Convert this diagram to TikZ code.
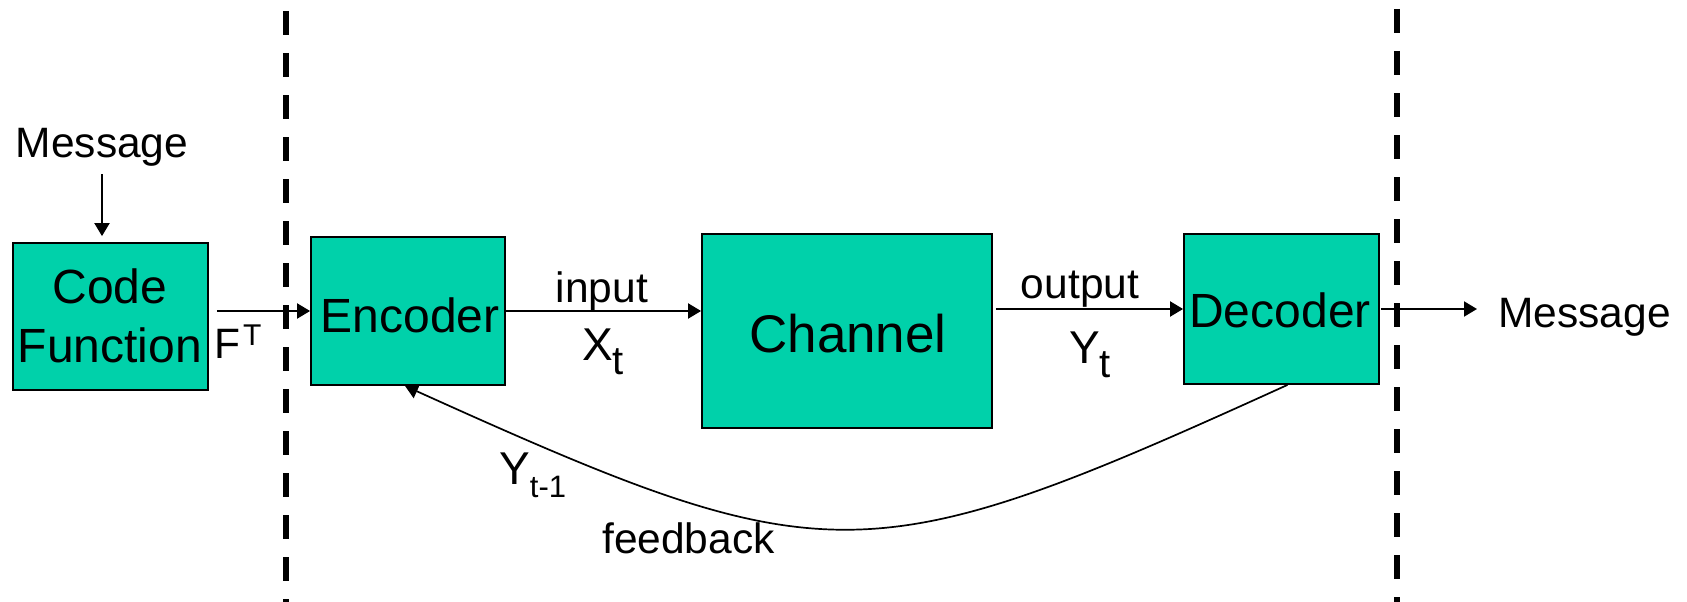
\documentclass[tikz,border=0pt]{standalone}
\usepackage{fontspec}
\setmainfont{Liberation Sans}
\usetikzlibrary{arrows.meta}
\definecolor{boxfill}{RGB}{0,209,170}
\begin{document}
\begin{tikzpicture}[x=1pt,y=-1pt,
  blk/.style={draw=black, line width=1.8pt, fill=boxfill, inner sep=0pt},
  boxtxt/.style={inner sep=0pt, font=\fontsize{48}{56}\selectfont},
  chtxt/.style={inner sep=0pt, font=\fontsize{53}{60}\selectfont},
  lbl/.style={inner sep=0pt, font=\fontsize{42.5}{50}\selectfont},
  lblbig/.style={inner sep=0pt, font=\fontsize{46}{52}\selectfont},
  arr/.style={line width=2pt, -{Triangle[length=13pt,width=15pt]}},
  divider/.style={line width=6pt, dash pattern=on 24pt off 18pt},
]
\useasboundingbox (0,0) rectangle (1687,602);

% dividers
\coordinate (d1t) at (286,11);
\coordinate (d1b) at (286,602);
\coordinate (d2t) at (1397,9);
\coordinate (d2b) at (1397,602);
\draw[divider] (d1t) -- (d1b);
\draw[divider] (d2t) -- (d2b);

% blocks
\node[blk, minimum width=195pt, minimum height=147pt] (cf) at (110.5,316.5) {};
\node[blk, minimum width=194pt, minimum height=148pt] (enc) at (408,311) {};
\node[blk, minimum width=290pt, minimum height=194pt] (ch) at (847,331) {};
\node[blk, minimum width=195pt, minimum height=150pt] (dec) at (1281.5,309) {};

% block texts
\node[boxtxt, anchor=base] (cft1) at (110,303) {Code};
\node[boxtxt, anchor=base] (cft2) at (110,362) {Function};
\node[boxtxt, anchor=base] (enct) at (410,332) {Encoder};
\node[chtxt, anchor=base] (cht) at (848,352) {Channel};
\node[boxtxt, anchor=base] (dect) at (1280,327) {Decoder};

% labels
\node[lbl, anchor=base] (msg1) at (102,157) {Message};
\node[lbl, anchor=base west] (ft) at (214,358) {F\hspace{3pt}\raisebox{13pt}{\fontsize{30}{30}\selectfont T}};
\node[lbl, anchor=base] (inp) at (602,302) {input};
\node[lblbig, anchor=base west] (xt) at (582,360) {X\raisebox{-14pt}{\fontsize{40}{40}\selectfont t}};
\node[lbl, anchor=base] (outp) at (1080,298) {output};
\node[lblbig, anchor=base west] (yt) at (1069,363) {Y\raisebox{-14pt}{\fontsize{40}{40}\selectfont t}};
\node[lbl, anchor=base west] (msg2) at (1498,327) {Message};
\node[lblbig, anchor=base west] (ytm) at (499,484) {Y\raisebox{-13pt}{\fontsize{31}{31}\selectfont t-1}};
\node[lbl, anchor=base west] (fb) at (602,553) {feedback};

% connectors
\draw[arr, shorten >=6pt] ([yshift=-8pt]msg1.south) -- (msg1.south |- cf.north);
\draw[arr, shorten <=8pt] (cf.east |- enc.west) -- (enc.west);
\draw[arr] (enc.east) -- (enc.east -| ch.west);
\draw[arr, shorten <=3pt] (ch.east |- dec.west) -- (dec.west);
\draw[arr, shorten <=1pt, shorten >=21pt] (dec.east) -- (dec.east -| msg2.west);
\draw[line width=1.7pt, -{Triangle[length=13pt,width=15pt]}]
  ([xshift=6pt]dec.south) .. controls (865,577) and (828,577) .. ([xshift=-3pt]enc.south);
\end{tikzpicture}
\end{document}
